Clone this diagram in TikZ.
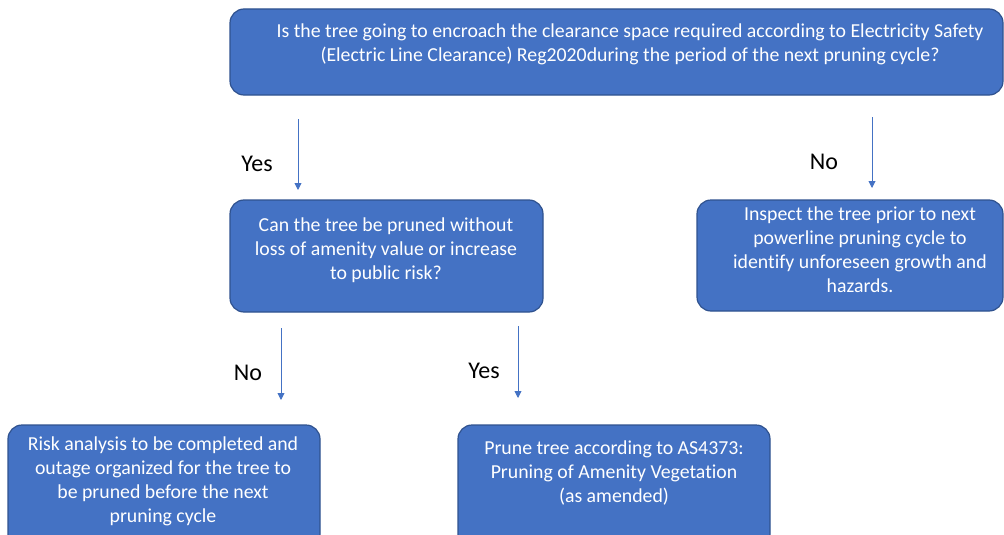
\documentclass[tikz,border=0pt]{standalone}
\usepackage{fontspec}
\setmainfont{Carlito}[Ligatures=NoCommon]
\usetikzlibrary{arrows.meta}
\definecolor{boxfill}{HTML}{4472C4}
\definecolor{boxline}{HTML}{2F528F}
\definecolor{arrowc}{HTML}{4472C4}
\begin{document}
\begin{tikzpicture}[x=1pt,y=-1pt,
  box/.style={draw=boxline, line width=1.2pt, fill=boxfill, rounded corners=14pt, inner sep=0pt},
  boxtext/.style={text=white, font=\fontsize{19.8}{24}\selectfont, align=center, inner sep=0pt},
  lbl/.style={font=\fontsize{24}{28}\selectfont, inner sep=0pt},
  flow/.style={draw=arrowc, line width=0.9pt, -{Triangle[length=7pt,width=7pt]}}]
\useasboundingbox (0,0) rectangle (1004,535);
\clip (0,0) rectangle (1004,535);

% boxes
\node[box, minimum width=773pt, minimum height=86pt] (q1) at (616.5,52) {};
\node[box, minimum width=313pt, minimum height=112pt] (q2) at (386.5,256) {};
\node[box, minimum width=306pt, minimum height=111pt] (r1) at (850,255.5) {};
\node[box, minimum width=312pt, minimum height=123pt] (r2) at (164,486.5) {};
\node[box, minimum width=312pt, minimum height=123pt] (r3) at (614,486.5) {};

% texts
\node[boxtext] (q1t) at (630,44) {Is the tree going to encroach the clearance space required according to Electricity Safety\\(Electric Line Clearance) Reg2020during the period of the next pruning cycle?};
\node[boxtext] (q2t) at (386,250) {Can the tree be pruned without\\loss of amenity value or increase\\to public risk?};
\node[boxtext] (r1t) at (860,250) {Inspect the tree prior to next\\powerline pruning cycle to\\identify unforeseen growth and\\hazards.};
\node[boxtext] (r2t) at (163,481.5) {Risk analysis to be completed and\\outage organized for the tree to\\be pruned before the next\\pruning cycle};
\node[boxtext] (r3t) at (614,473) {Prune tree according to AS4373:\\Pruning of Amenity Vegetation\\(as amended)};

% connectors
\coordinate (a1s) at (298,119); \coordinate (a1e) at (298,190);
\coordinate (a2s) at (872,117); \coordinate (a2e) at (872,188);
\coordinate (a3s) at (281,328); \coordinate (a3e) at (281,400);
\coordinate (a4s) at (518,326); \coordinate (a4e) at (518,398);
\draw[flow] (a1s) -- (a1e);
\draw[flow] (a2s) -- (a2e);
\draw[flow] (a3s) -- (a3e);
\draw[flow] (a4s) -- (a4e);

% labels
\node[lbl] (l1) at (257,164) {Yes};
\node[lbl] (l2) at (824,162) {No};
\node[lbl] (l3) at (248,373) {No};
\node[lbl] (l4) at (484,371) {Yes};
\end{tikzpicture}
\end{document}
